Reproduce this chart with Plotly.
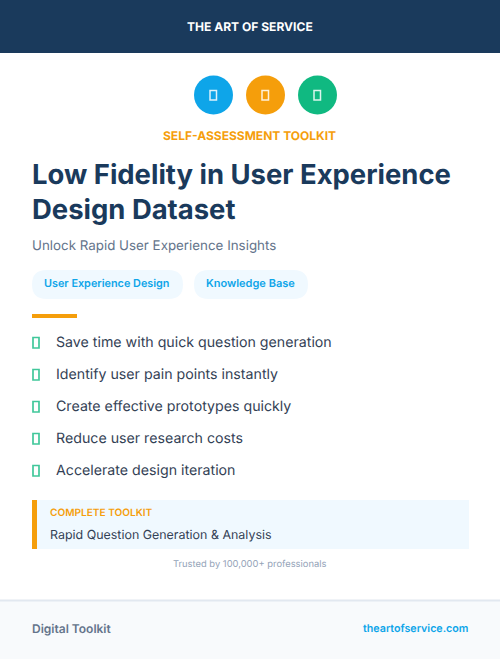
import plotly.graph_objects as go

W, H = 500, 659
NAVY = "#1a3a5c"; BLUE = "#0ea5e9"; ORANGE = "#f59e0b"; GREEN = "#10b981"
PALE = "#f0f9ff"; SLATE = "#334155"; GREY = "#64748b"; LIGHT = "#94a3b8"
FONT = "Inter"

header = "THE ART OF SERVICE"
eyebrow = "SELF-ASSESSMENT TOOLKIT"
title_lines = ["Low Fidelity in User Experience", "Design Dataset"]
subtitle = "Unlock Rapid User Experience Insights"
tags = ["User Experience Design", "Knowledge Base"]
bullets = ["Save time with quick question generation", "Identify user pain points instantly",
           "Create effective prototypes quickly", "Reduce user research costs",
           "Accelerate design iteration"]
box_label = "COMPLETE TOOLKIT"
box_text = "Rapid Question Generation & Analysis"
trust = "Trusted by 100,000+ professionals"
foot_left = "Digital Toolkit"
foot_right = "theartofservice.com"

shapes = []
ann = []

def rect(x0, y0, x1, y1, fill, line=None, lw=0, r=0):
    s = dict(xref="x", yref="y", fillcolor=fill, line=dict(color=line or fill, width=lw), layer="below")
    if r:
        p = (f"M{x0+r},{y0} L{x1-r},{y0} Q{x1},{y0} {x1},{y0+r} L{x1},{y1-r} Q{x1},{y1} {x1-r},{y1} "
             f"L{x0+r},{y1} Q{x0},{y1} {x0},{y1-r} L{x0},{y0+r} Q{x0},{y0} {x0+r},{y0} Z")
        s.update(type="path", path=p)
    else:
        s.update(type="rect", x0=x0, y0=y0, x1=x1, y1=y1)
    shapes.append(s)

def text(x, y, t, size, color, anchor="left", weight=400):
    ann.append(dict(x=x, y=y, xref="x", yref="y", text=t, showarrow=False, xanchor=anchor, yanchor="middle",
                    align=anchor, font=dict(family=FONT, size=size, color=color, weight=weight),
                    borderpad=0, borderwidth=0))

rect(0, 0, W, 53, NAVY)
text(249.5, 26.5, header, 12.05, "#ffffff", "center", 700)

for cx, col in zip([213.5, 265.5, 317.5], [BLUE, ORANGE, GREEN]):
    shapes.append(dict(type="circle", xref="x", yref="y", x0=cx-19.5, x1=cx+19.5, y0=75.5, y1=114.5,
                       fillcolor=col, line=dict(width=0), layer="below"))
    rect(cx-3.5, 90.5, cx+3, 100, "rgba(0,0,0,0)", "rgba(255,255,255,0.85)", 1.5)
text(249.5, 135.5, eyebrow, 12, ORANGE, "center", 700)

text(32, 174, title_lines[0], 27.45, NAVY, "left", 700)
text(32, 209, title_lines[1], 27.45, NAVY, "left", 700)
text(32, 245, subtitle, 13.35, GREY)

rect(32, 270, 183, 299, PALE, r=14.5)
rect(194, 270, 308, 299, PALE, r=14.5)
text(44, 283, tags[0], 10.85, BLUE, "left", 600)
text(206, 283, tags[1], 11, BLUE, "left", 600)
rect(32, 314, 77, 318, ORANGE)

for i, b in enumerate(bullets):
    y = 342 + 32 * i
    rect(33, y-4.5, 39, y+6, "rgba(0,0,0,0)", "rgba(16,185,129,0.8)", 1.7)
    text(56, y - 0.4, b, 14.2, SLATE)

rect(32, 500, 469, 549, PALE)
rect(32, 500, 37, 549, ORANGE)
text(50, 512, box_label, 10.1, ORANGE, "left", 600)
text(50, 534.5, box_text, 12.45, SLATE)
text(250, 563, trust, 9.4, LIGHT, "center")

rect(0, 600, W, H, "#f8fafc")
rect(0, 599.5, W, 601.5, "#e2e8f0")
text(32, 628.5, foot_left, 12, GREY, "left", 600)
text(468, 628, foot_right, 10.7, BLUE, "right", 600)

fig = go.Figure()
fig.update_layout(width=W, height=H, margin=dict(l=0, r=0, t=0, b=0), paper_bgcolor="white", plot_bgcolor="white",
                  xaxis=dict(range=[0, W], visible=False, fixedrange=True),
                  yaxis=dict(range=[H, 0], visible=False, fixedrange=True),
                  shapes=shapes, annotations=ann, showlegend=False)
page_fix = ("document.documentElement.style.overflow='hidden';document.body.style.margin='0';"
            "var st=document.createElement('style');st.textContent='text{text-rendering:geometricPrecision}';"
            "document.head.appendChild(st);")
fig.write_html("out.html", config=dict(displayModeBar=False), post_script=page_fix)
